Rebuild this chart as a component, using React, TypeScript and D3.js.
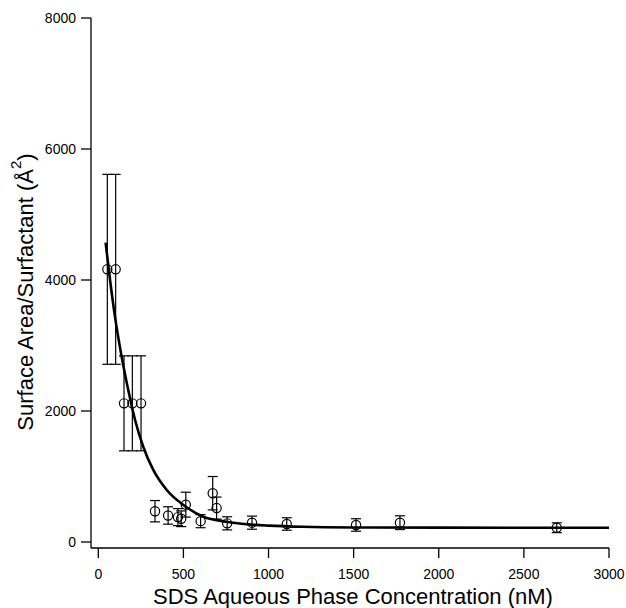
import React from "react";
import * as d3 from "d3";

const concX = [53, 102, 151, 200, 251, 333, 410, 468, 487, 514, 601, 672, 695, 757, 903, 1107, 1514, 1772, 2693];
const areaY = [4163, 4163, 2117, 2117, 2117, 470, 405, 380, 355, 570, 318, 745, 518, 285, 295, 275, 260, 295, 218];
const areaErr = [1450, 1450, 725, 725, 725, 163, 133, 130, 120, 190, 100, 255, 168, 100, 100, 95, 95, 105, 75];

const fitX = [43, 69, 98, 137, 176, 216, 264, 323, 402, 500, 617, 750, 900, 1000, 1200, 1500, 2000, 3000];
const fitY = [4570, 4000, 3440, 2830, 2320, 1863, 1455, 1100, 794, 565, 386, 310, 265, 250, 232, 222, 219, 218];

const xTicks = [0, 500, 1000, 1500, 2000, 2500, 3000];
const yTicks = [0, 2000, 4000, 6000, 8000];

const W = 626;
const H = 608;
const FONT = "'Liberation Sans', Arial, sans-serif";

export default function App() {
  const x = d3.scaleLinear().domain([0, 3000]).range([98.3, 609]);
  const y = d3.scaleLinear().domain([0, 8000]).range([542, 18]);
  const axisX = 91;
  const axisY = 548;
  const line = d3
    .line<number>()
    .x((_, i) => x(fitX[i]))
    .y((d) => y(d))
    .curve(d3.curveMonotoneX);
  const cap = 5;
  return (
    <svg
      width={W}
      height={H}
      style={{ position: "absolute", left: 0, top: 0, background: "#fff" }}
      fontFamily={FONT}
    >
      <rect width={W} height={H} fill="#fff" />
      {/* axes */}
      <line x1={axisX} x2={axisX} y1={y(8000)} y2={axisY} stroke="#000" strokeWidth={1.3} />
      <line x1={axisX} x2={x(3000)} y1={axisY} y2={axisY} stroke="#000" strokeWidth={1.3} />
      {yTicks.map((t) => (
        <g key={"y" + t}>
          <line x1={axisX - 10} x2={axisX} y1={y(t)} y2={y(t)} stroke="#000" strokeWidth={1.3} />
          <text x={axisX - 15} y={y(t)} dy="0.35em" textAnchor="end" fontSize={14}>
            {t}
          </text>
        </g>
      ))}
      {xTicks.map((t) => (
        <g key={"x" + t}>
          <line x1={x(t)} x2={x(t)} y1={axisY} y2={axisY + 10} stroke="#000" strokeWidth={1.3} />
          <text x={x(t)} y={579} textAnchor="middle" fontSize={14}>
            {t}
          </text>
        </g>
      ))}
      {/* axis titles */}
      <text x={353} y={604} textAnchor="middle" fontSize={22}>
        SDS Aqueous Phase Concentration (nM)
      </text>
      <text transform="translate(33,292) rotate(-90)" textAnchor="middle" fontSize={22}>
        Surface Area/Surfactant (Å
        <tspan fontSize={15} dy={-12}>2</tspan>
        <tspan dy={12}>)</tspan>
      </text>
      {/* fit */}
      <path d={line(fitY) || ""} fill="none" stroke="#000" strokeWidth={2.6} />
      {/* error bars + points */}
      {concX.map((cx, i) => {
        const px = x(cx);
        const top = y(areaY[i] + areaErr[i]);
        const bot = y(areaY[i] - areaErr[i]);
        return (
          <g key={"p" + i} stroke="#000" strokeWidth={1.2} fill="none">
            <line x1={px} x2={px} y1={top} y2={bot} />
            <line x1={px - cap} x2={px + cap} y1={top} y2={top} />
            <line x1={px - cap} x2={px + cap} y1={bot} y2={bot} />
            <circle cx={px} cy={y(areaY[i])} r={4.6} />
          </g>
        );
      })}
    </svg>
  );
}
